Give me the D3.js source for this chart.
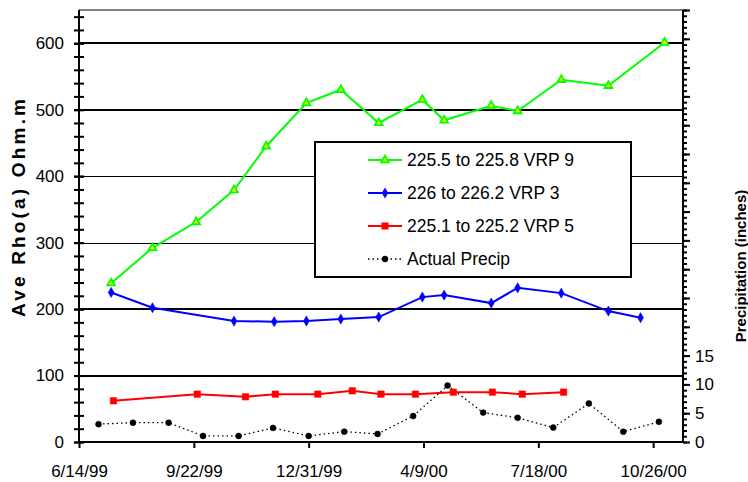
<!DOCTYPE html>
<html><head><meta charset="utf-8">
<script src="https://cdn.jsdelivr.net/npm/d3@7"></script>
<style>
html,body{margin:0;padding:0;background:#fff;}
svg{display:block;font-family:"Liberation Sans",Arial,sans-serif;}
</style></head><body>
<svg id="chart" width="748" height="482"></svg>
<script>
// ---------- data ----------
const xTickLabels = ["6/14/99","9/22/99","12/31/99","4/9/00","7/18/00","10/26/00"];
const xDomainLabels = ["6/14/99","11/21/00"];
const leftTickLabels = [0,100,200,300,400,500,600];
const rightTickLabels = [0,5,10,15];
const seriesNames = ["225.5 to 225.8 VRP 9","226 to 226.2 VRP 3","225.1 to 225.2 VRP 5","Actual Precip"];

const greenDates = ["7/12/99","8/17/99","9/24/99","10/27/99","11/24/99","12/29/99","1/28/00","3/1/00","4/8/00","4/27/00","6/7/00","6/30/00","8/7/00","9/17/00","11/5/00"];
const greenValues = [239,292,331,379,445,510,530,480,515,484,506,498,545,536,601];

const blueDates = ["7/12/99","8/17/99","10/27/99","12/1/99","12/29/99","1/28/00","3/1/00","4/8/00","4/27/00","6/7/00","6/30/00","8/7/00","9/17/00","10/15/00"];
const blueValues = [225,202,182,181,182,185,188,218,221,209,232,224,197,187];

const redDates = ["7/14/99","9/25/99","11/6/99","12/2/99","1/8/00","2/7/00","3/3/00","4/2/00","5/5/00","6/8/00","7/4/00","8/9/00"];
const redValues = [62,72,68,72,72,77,72,72,75,75,72,75];

const precipDates = ["7/1/99","7/31/99","8/31/99","9/30/99","10/31/99","11/30/99","12/31/99","1/31/00","2/29/00","3/31/00","4/30/00","5/31/00","6/30/00","7/31/00","8/31/00","9/30/00","10/31/00"];
const precipValues = [3.1,3.35,3.35,1.05,1.05,2.45,1.05,1.8,1.4,4.5,9.8,5.1,4.2,2.5,6.7,1.8,3.5];

// ---------- setup ----------
const parse = d3.timeParse("%m/%d/%y");
const svg = d3.select("#chart");
svg.append("rect").attr("width",748).attr("height",482).attr("fill","#fff");

const L = 79, R = 683, T = 10, B = 442;
const x = d3.scaleTime().domain(xDomainLabels.map(parse)).range([L,R]);
const yL = d3.scaleLinear().domain([0,650]).range([B,T]);
const yR = d3.scaleLinear().domain([0,75]).range([B,T]);

// plot frame top (gray)
svg.append("line").attr("x1",L).attr("x2",R).attr("y1",T).attr("y2",T)
  .attr("stroke","#808080").attr("stroke-width",2);

// gridlines
const thick = [100,200,500,600];
svg.append("g").selectAll("line").data(leftTickLabels.filter(v=>v>0)).join("line")
  .attr("x1",L).attr("x2",R)
  .attr("y1",d=>thick.includes(d)?Math.round(yL(d)):Math.round(yL(d))+0.5)
  .attr("y2",d=>thick.includes(d)?Math.round(yL(d)):Math.round(yL(d))+0.5)
  .attr("stroke","#000").attr("stroke-width",d=>thick.includes(d)?2:1);

// left axis ticks (crossing)
const minorL = d3.range(0,651,20).concat(leftTickLabels);
const gl1 = svg.append("g").attr("transform",`translate(${L},0)`)
  .call(d3.axisLeft(yL).tickValues(minorL).tickSize(5).tickFormat(""));
const gl2 = svg.append("g").attr("transform",`translate(${L},0)`)
  .call(d3.axisRight(yL).tickValues(minorL).tickSize(5).tickFormat(""));
[gl1,gl2].forEach(g=>{g.select(".domain").remove();g.selectAll("line").attr("stroke","#000").attr("stroke-width",2);});
const gl3 = svg.append("g").attr("transform",`translate(${L},0)`)
  .call(d3.axisLeft(yL).tickValues(leftTickLabels).tickSize(0).tickPadding(15));
gl3.select(".domain").remove();
gl3.selectAll("text").attr("font-size",17).attr("fill","#000").attr("font-family","Liberation Sans, Arial, sans-serif");
svg.append("line").attr("x1",L).attr("x2",L).attr("y1",T).attr("y2",B+1).attr("stroke","#000").attr("stroke-width",2);

// right axis
const minorR = d3.range(0,76,1);
const majorR = d3.range(0,76,5);
const gr1 = svg.append("g").attr("transform",`translate(${R},0)`)
  .call(d3.axisRight(yR).tickValues(minorR).tickSize(4).tickFormat(""));
const gr2 = svg.append("g").attr("transform",`translate(${R},0)`)
  .call(d3.axisRight(yR).tickValues(majorR).tickSize(7).tickFormat(""));
[gr1,gr2].forEach(g=>{g.select(".domain").remove();g.selectAll("line").attr("stroke","#000").attr("stroke-width",2);});
const gr3 = svg.append("g").attr("transform",`translate(${R},0)`)
  .call(d3.axisRight(yR).tickValues(rightTickLabels).tickSize(0).tickPadding(12));
gr3.select(".domain").remove();
gr3.selectAll("text").attr("font-size",17).attr("fill","#000").attr("font-family","Liberation Sans, Arial, sans-serif");
svg.append("line").attr("x1",R).attr("x2",R).attr("y1",T).attr("y2",B+1).attr("stroke","#000").attr("stroke-width",2);

// x axis
const gx = svg.append("g").attr("transform",`translate(0,${B})`)
  .call(d3.axisBottom(x).tickValues(xTickLabels.map(parse)).tickSize(6).tickPadding(17)
    .tickFormat((d,i)=>xTickLabels[i]));
gx.select(".domain").remove();
gx.selectAll("line").attr("stroke","#000").attr("stroke-width",2);
gx.selectAll("text").attr("font-size",17).attr("fill","#000").attr("font-family","Liberation Sans, Arial, sans-serif");
svg.append("line").attr("x1",L-1).attr("x2",R+1).attr("y1",B).attr("y2",B).attr("stroke","#000").attr("stroke-width",2);

// axis titles
svg.append("text").attr("transform","translate(18,208) rotate(-90)")
  .attr("text-anchor","middle").attr("dominant-baseline","central")
  .attr("font-size",19).attr("font-weight","bold").attr("fill","#000")
  .attr("textLength",218).attr("lengthAdjust","spacing")
  .text("Ave Rho(a) Ohm.m");
svg.append("text").attr("transform","translate(740,266) rotate(-90)")
  .attr("text-anchor","middle").attr("dominant-baseline","central")
  .attr("font-size",15).attr("font-weight","bold").attr("fill","#000")
  .text("Precipitation (inches)");

// ---------- series ----------
function series(dates, vals, yScale){ return dates.map((d,i)=>({x:x(parse(d)), y:yScale(vals[i])})); }
const line = d3.line().x(d=>d.x).y(d=>d.y);

const precip = series(precipDates, precipValues, yR);
const red = series(redDates, redValues, yL);
const blue = series(blueDates, blueValues, yL);
const green = series(greenDates, greenValues, yL);

const styles = [
  {data:green, color:"#00FF00", sym:d3.symbolTriangle, size:26, fill:"#FFFF00", stroke:"#00FF00", dash:null, w:2},
  {data:blue, color:"#0000FF", sym:d3.symbolDiamond, size:30, fill:"#0000FF", stroke:"#0000FF", dash:null, w:2},
  {data:red, color:"#FF0000", sym:d3.symbolSquare, size:42, fill:"#FF0000", stroke:"#FF0000", dash:null, w:2},
  {data:precip, color:"#000", sym:d3.symbolCircle, size:28, fill:"#000", stroke:"#000", dash:"1.5,3", w:1.3}
];

// legend box
const lg = svg.append("g");
lg.append("rect").attr("x",315).attr("y",142).attr("width",316).attr("height",135)
  .attr("fill","#fff").attr("stroke","#000").attr("stroke-width",2);

[3,2,1,0].forEach(k=>{
  const s = styles[k];
  svg.append("path").attr("d",line(s.data)).attr("fill","none")
    .attr("stroke",s.color).attr("stroke-width",s.w)
    .attr("stroke-dasharray",s.dash);
  svg.append("g").selectAll("path").data(s.data).join("path")
    .attr("transform",d=>`translate(${d.x},${d.y})`)
    .attr("d",d3.symbol(s.sym,s.size)())
    .attr("fill",s.fill).attr("stroke",s.stroke).attr("stroke-width",k===0?1.8:0.5);
});

// legend entries
const rowsY = [160,193,226,259];
styles.forEach((s,i)=>{
  lg.append("line").attr("x1",368).attr("x2",402).attr("y1",rowsY[i]).attr("y2",rowsY[i])
    .attr("stroke",s.color).attr("stroke-width",s.w).attr("stroke-dasharray",s.dash);
  lg.append("path").attr("transform",`translate(385,${rowsY[i]})`)
    .attr("d",d3.symbol(s.sym,s.size)())
    .attr("fill",s.fill).attr("stroke",s.stroke).attr("stroke-width",i===0?1.8:0.5);
  lg.append("text").attr("x",407).attr("y",rowsY[i]).attr("dominant-baseline","central")
    .attr("font-size",17.5).attr("fill","#000").text(seriesNames[i]);
});
</script>
</body></html>
